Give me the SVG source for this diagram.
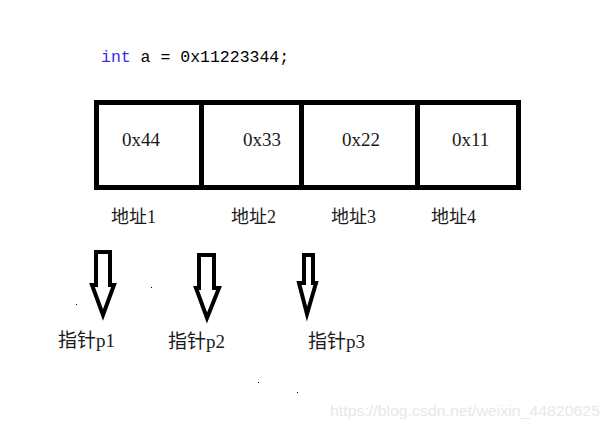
<svg xmlns="http://www.w3.org/2000/svg" width="610" height="429" viewBox="0 0 610 429">
<style>
.code{font-family:"Liberation Mono","DejaVu Sans Mono",monospace;font-size:16.5px;fill:#000}
.kw{fill:#3a2cf0}
.val{font-family:"Liberation Serif","Noto Sans CJK SC",serif;font-size:19px;fill:#1a1a1a}
.lbl{font-family:"Liberation Serif","Noto Sans CJK SC",serif;font-size:18px;fill:#1a1a1a}
.cell{fill:#fff;stroke:#000;stroke-width:5}
.arrow{fill:#fff;stroke:#000;stroke-width:4;stroke-linejoin:miter;stroke-miterlimit:4}
.wm{font-family:"Liberation Sans",Arial,sans-serif;font-size:15px;fill:#e8e8e8}
</style>
<rect width="610" height="429" fill="#fff"/>
<text class="code" x="101" y="62"><tspan class="kw">int</tspan> a = 0x11223344;</text>
<g id="memory">
<g id="cell1"><rect class="cell" x="96.5" y="102.5" width="105" height="85"/><text class="val" x="122" y="146">0x44</text></g>
<g id="cell2"><rect class="cell" x="201.5" y="102.5" width="100" height="85"/><text class="val" x="243" y="146">0x33</text></g>
<g id="cell3"><rect class="cell" x="301.5" y="102.5" width="116" height="85"/><text class="val" x="342" y="146">0x22</text></g>
<g id="cell4"><rect class="cell" x="417.5" y="102.5" width="101" height="85"/><text class="val" x="452" y="146">0x11</text></g>
</g>
<g id="addr1"><text class="lbl" x="111" y="223">地址1</text></g>
<g id="addr2"><text class="lbl" x="231" y="223">地址2</text></g>
<g id="addr3"><text class="lbl" x="331" y="223">地址3</text></g>
<g id="addr4"><text class="lbl" x="431" y="223">地址4</text></g>
<g id="connectors">
<polygon class="arrow" points="96,252 110,252 110,285 114,285 103,315 92,285 96,285"/>
<polygon class="arrow" points="199,255 214,255 214,288 219,288 207,318 196,288 199,288"/>
<polygon class="arrow" points="304,255 313,255 313,283 316,283 307,314 299,283 304,283"/>
</g>
<g id="p1"><text class="lbl" x="58" y="347" style="font-size:19px">指针p1</text></g>
<g id="p2"><text class="lbl" x="168" y="348" style="font-size:19px">指针p2</text></g>
<g id="p3"><text class="lbl" x="308" y="348" style="font-size:19px">指针p3</text></g>
<g fill="#000">
<rect x="76" y="304" width="1" height="1"/>
<rect x="151" y="287" width="1" height="1"/>
<rect x="258" y="382" width="1" height="1"/>
<rect x="297" y="392" width="1" height="1"/>
</g>
<text class="wm" x="330" y="416" textLength="270" lengthAdjust="spacingAndGlyphs">https://blog.csdn.net/weixin_44820625</text>
</svg>
